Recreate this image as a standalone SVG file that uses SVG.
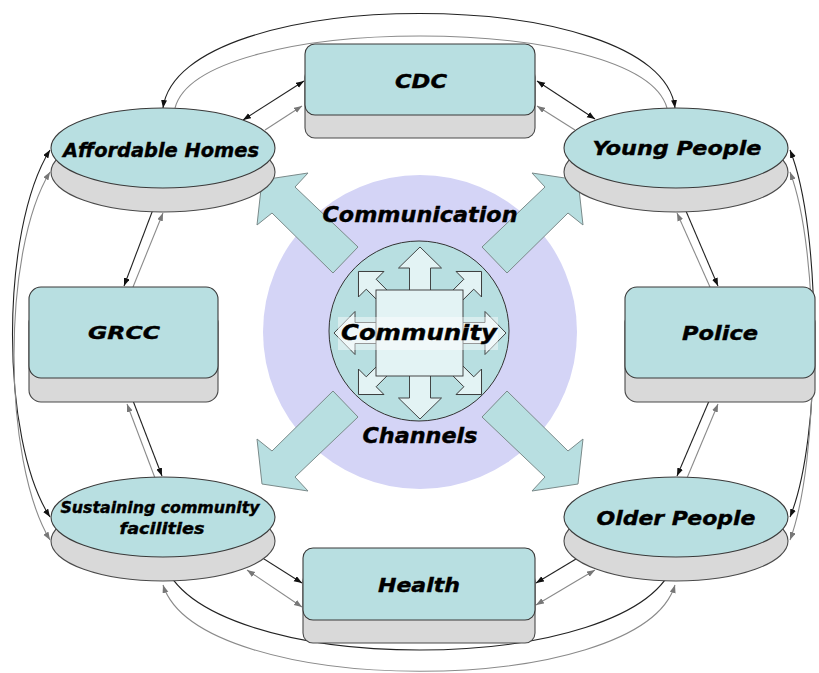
<svg xmlns="http://www.w3.org/2000/svg" width="819" height="673" viewBox="0 0 819 673">
<style>
.cy{fill:#B8DFE1;stroke:#3a3a3a;stroke-width:1.1}
.sh{fill:#D9D9D9;stroke:#4a4a4a;stroke-width:1.1}
.big{fill:#B8DFE1;stroke:#7a8a8a;stroke-width:1}
.st{fill:#E3F3F4;stroke:#333;stroke-width:0.9}
.t{font-family:"DejaVu Sans","Liberation Sans",sans-serif;font-weight:bold;font-style:italic;fill:#000;stroke:#000;stroke-width:0.4;text-anchor:middle}
.lb{fill:none;stroke:#222;stroke-width:1.1;marker-start:url(#ab);marker-end:url(#ab)}
.lg{fill:none;stroke:#8a8a8a;stroke-width:1.1;marker-end:url(#ag)}
.lg2{fill:none;stroke:#8a8a8a;stroke-width:1.1;marker-start:url(#ag);marker-end:url(#ag)}
.lgn{fill:none;stroke:#8a8a8a;stroke-width:1.1}
</style>
<defs>
<marker id="ab" markerUnits="userSpaceOnUse" markerWidth="9" markerHeight="7" refX="8" refY="3" orient="auto-start-reverse"><path d="M0,0 L8,3 L0,6 Z" fill="#111"/></marker>
<marker id="ag" markerUnits="userSpaceOnUse" markerWidth="9" markerHeight="7" refX="8" refY="3" orient="auto-start-reverse"><path d="M0,0 L8,3 L0,6 Z" fill="#777"/></marker>
<path id="card" d="M-10.5,0 L-10.5,-65 L-21.5,-65 L0,-86 L21.5,-65 L10.5,-65 L10.5,0 Z"/>
<path id="diag" d="M-7,0 L-7,-69 L-18,-69 L0,-87 L18,-69 L7,-69 L7,0 Z"/>
</defs>

<g id="center">
<circle cx="420" cy="332" r="157" fill="#D4D4F6"/>
<polygon class="big" points="262,180 308,173 295,187 358,247 333,273 272,213 257,225"/>
<polygon class="big" points="578,180 532,173 545,187 482,247 507,273 568,213 583,225"/>
<polygon class="big" points="262,484 308,491 295,477 358,417 333,391 272,451 257,439"/>
<polygon class="big" points="578,484 532,491 545,477 482,417 507,391 568,451 583,439"/>
<circle cx="419" cy="331" r="90" fill="#B8DFE1" stroke="#333" stroke-width="1"/>
<g transform="translate(420,333)">
<use href="#diag" class="st" transform="rotate(-45)"/>
<use href="#diag" class="st" transform="rotate(45)"/>
<use href="#diag" class="st" transform="rotate(135)"/>
<use href="#diag" class="st" transform="rotate(-135)"/>
<use href="#card" class="st"/>
<use href="#card" class="st" transform="rotate(90)"/>
<use href="#card" class="st" transform="rotate(180)"/>
<use href="#card" class="st" transform="rotate(-90)"/>
<rect x="-44" y="-43" width="87" height="86" class="st"/>
</g>
<rect x="338" y="317" width="160" height="33" fill="#fff" fill-opacity="0.45"/>
<text class="t" x="420" y="222" font-size="21" textLength="195" lengthAdjust="spacingAndGlyphs">Communication</text>
<text class="t" x="419" y="340" font-size="22" textLength="156" lengthAdjust="spacingAndGlyphs">Community</text>
<text class="t" x="420" y="443" font-size="21" textLength="115" lengthAdjust="spacingAndGlyphs">Channels</text>
</g>

<g id="connectors">
<path class="lb" d="M243,120 L304,81"/>
<path class="lg" d="M265,130 L302,106"/>
<path class="lb" d="M537,81 L595,119"/>
<path class="lg" d="M575,130 L537,106"/>
<path class="lb" d="M160,191 L124,286"/>
<path class="lg" d="M133,287 L163,213"/>
<path class="lb" d="M125,380 L162,476"/>
<path class="lg" d="M155,478 L127,404"/>
<path class="lb" d="M677,190 L718,286"/>
<path class="lg" d="M710,287 L677,213"/>
<path class="lb" d="M718,380 L677,476"/>
<path class="lg" d="M687,478 L718,404"/>
<path class="lb" d="M245,547 L302,583"/>
<path class="lg2" d="M247,570 L302,607"/>
<path class="lb" d="M536,583 L596,547"/>
<path class="lg2" d="M536,605 L595,570"/>
<path class="lb" d="M163,108 C180,-18 660,-18 675,108"/>
<path class="lgn" d="M175,108 C200,12 640,12 667,108"/>
<path class="lb" d="M50,150 C0,230 0,440 50,517"/>
<path class="lg2" d="M50,172 C2,250 2,460 50,540"/>
<path class="lb" d="M790,150 C822,230 822,440 790,517"/>
<path class="lg2" d="M790,172 C820,250 820,460 790,540"/>
<path class="lb" d="M163,560 C200,680 640,680 675,560"/>
<path class="lg2" d="M163,585 C200,700 640,700 675,585"/>
</g>

<g id="cdc">
<rect class="sh" x="305" y="67" width="230" height="71" rx="10"/>
<rect class="cy" x="305" y="44" width="230" height="71" rx="10"/>
<text class="t" x="421" y="88" font-size="20" textLength="52" lengthAdjust="spacingAndGlyphs">CDC</text>
</g>
<g id="affordable-homes">
<ellipse class="sh" cx="163" cy="172" rx="112" ry="40"/>
<ellipse class="cy" cx="163" cy="148" rx="112" ry="40"/>
<text class="t" x="161" y="157" font-size="19" textLength="196" lengthAdjust="spacingAndGlyphs">Affordable Homes</text>
</g>
<g id="young-people">
<ellipse class="sh" cx="676" cy="172" rx="112" ry="40"/>
<ellipse class="cy" cx="676" cy="148" rx="112" ry="40"/>
<text class="t" x="677" y="155" font-size="20" textLength="169" lengthAdjust="spacingAndGlyphs">Young People</text>
</g>
<g id="grcc">
<rect class="sh" x="29" y="311" width="189" height="91" rx="12"/>
<rect class="cy" x="29" y="287" width="189" height="91" rx="12"/>
<text class="t" x="124" y="339" font-size="18" textLength="72" lengthAdjust="spacingAndGlyphs">GRCC</text>
</g>
<g id="police">
<rect class="sh" x="625" y="311" width="190" height="91" rx="12"/>
<rect class="cy" x="625" y="287" width="190" height="91" rx="12"/>
<text class="t" x="720" y="340" font-size="19" textLength="76" lengthAdjust="spacingAndGlyphs">Police</text>
</g>
<g id="sustaining">
<ellipse class="sh" cx="163" cy="541" rx="112" ry="40"/>
<ellipse class="cy" cx="163" cy="517" rx="112" ry="40"/>
<text class="t" x="160" y="513" font-size="15" textLength="199" lengthAdjust="spacingAndGlyphs">Sustaining community</text>
<text class="t" x="162" y="534" font-size="16" textLength="85" lengthAdjust="spacingAndGlyphs">facilities</text>
</g>
<g id="older-people">
<ellipse class="sh" cx="676" cy="541" rx="112" ry="40"/>
<ellipse class="cy" cx="676" cy="517" rx="112" ry="40"/>
<text class="t" x="676" y="525" font-size="20" textLength="159" lengthAdjust="spacingAndGlyphs">Older People</text>
</g>
<g id="health">
<rect class="sh" x="303" y="571" width="232" height="72" rx="10"/>
<rect class="cy" x="303" y="548" width="232" height="72" rx="10"/>
<text class="t" x="419" y="592" font-size="20" textLength="82" lengthAdjust="spacingAndGlyphs">Health</text>
</g>
</svg>
